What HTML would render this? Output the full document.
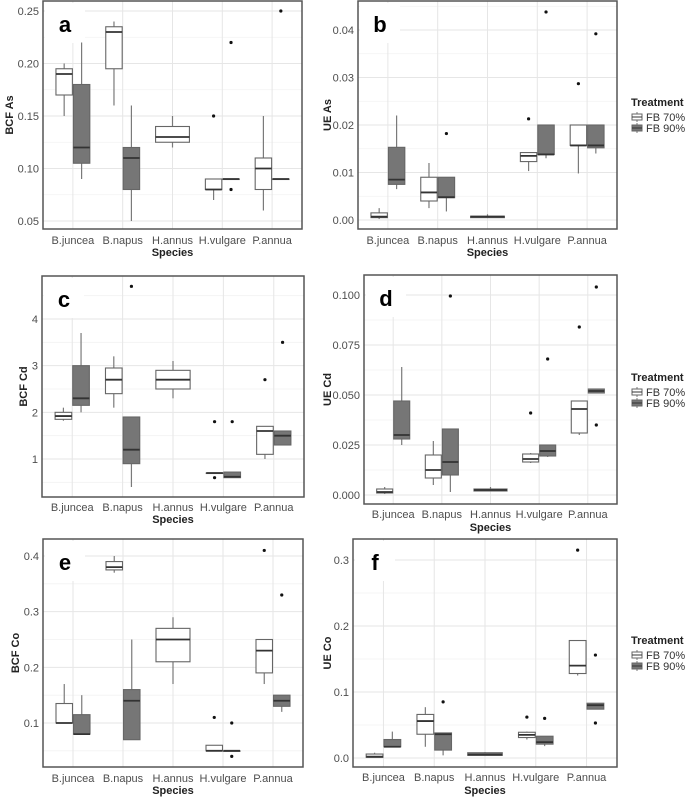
<!DOCTYPE html>
<html><head><meta charset="utf-8">
<style>
body{margin:0;background:#fff;}
svg{display:block;font-family:"Liberation Sans",Arial,sans-serif;}
</style></head>
<body>
<svg id="fig" width="685" height="800" viewBox="0 0 685 800"></svg>
<script>
const species = ["B.juncea","B.napus","H.annus","H.vulgare","P.annua"];
// each entry: [lowWhisker, q1, median, q3, highWhisker]; null = no box
const a70 = [[0.15,0.17,0.19,0.195,0.20],[0.16,0.195,0.23,0.235,0.24],[0.12,0.125,0.13,0.14,0.15],[0.07,0.08,0.08,0.09,0.09],[0.06,0.08,0.10,0.11,0.15]];
const a90 = [[0.09,0.105,0.12,0.18,0.22],[0.05,0.08,0.11,0.12,0.16],null,[0.09,0.09,0.09,0.09,0.09],[0.09,0.09,0.09,0.09,0.09]];
const aOut70 = [[],[],[],[0.15],[]];
const aOut90 = [[],[],[],[0.22,0.08],[0.25]];
const aTicks = [0.05,0.10,0.15,0.20,0.25];
const aTickLabels = ["0.05","0.10","0.15","0.20","0.25"];

const b70 = [[0.0002,0.0005,0.0007,0.0015,0.0025],[0.0025,0.004,0.0058,0.009,0.012],null,[0.0103,0.0123,0.0135,0.0142,0.0142],[0.0098,0.0157,0.0157,0.02,0.02]];
const b90 = [[0.0065,0.0075,0.0085,0.0153,0.022],[0.0018,0.0047,0.0048,0.009,0.009],[0.0005,0.0005,0.0007,0.0008,0.0012],[0.013,0.0138,0.0138,0.02,0.02],[0.014,0.0152,0.0157,0.02,0.02]];
const bOut70 = [[],[],[],[0.0213],[0.0287]];
const bOut90 = [[],[0.0182],[],[0.0438],[0.0392]];
const bTicks = [0,0.01,0.02,0.03,0.04];
const bTickLabels = ["0.00","0.01","0.02","0.03","0.04"];

const c70 = [[1.82,1.85,1.92,2.0,2.1],[2.1,2.4,2.7,2.95,3.2],[2.3,2.5,2.7,2.9,3.1],[0.7,0.7,0.7,0.7,0.7],[1.0,1.1,1.6,1.7,1.7]];
const c90 = [[2.0,2.15,2.3,3.0,3.7],[0.4,0.9,1.2,1.9,1.9],null,[0.6,0.6,0.62,0.72,0.72],[1.3,1.3,1.5,1.6,1.6]];
const cOut70 = [[],[],[],[1.8,0.6],[2.7]];
const cOut90 = [[],[4.7],[],[1.8],[3.5]];
const cTicks = [1,2,3,4];
const cTickLabels = ["1","2","3","4"];

const d70 = [[0.0005,0.001,0.0015,0.003,0.004],[0.005,0.0085,0.0125,0.02,0.027],null,[0.016,0.0165,0.018,0.0205,0.021],[0.030,0.031,0.043,0.047,0.047]];
const d90 = [[0.025,0.028,0.030,0.047,0.064],[0.0015,0.01,0.0165,0.033,0.033],[0.002,0.002,0.0025,0.003,0.004],[0.019,0.0195,0.022,0.025,0.025],[0.051,0.051,0.052,0.053,0.053]];
const dOut70 = [[],[],[],[0.041],[0.084]];
const dOut90 = [[],[0.0995],[],[0.068],[0.104,0.035]];
const dTicks = [0,0.025,0.05,0.075,0.1];
const dTickLabels = ["0.000","0.025","0.050","0.075","0.100"];

const e70 = [[0.10,0.10,0.10,0.135,0.17],[0.37,0.375,0.38,0.39,0.40],[0.17,0.21,0.25,0.27,0.29],[0.05,0.05,0.05,0.06,0.06],[0.17,0.19,0.23,0.25,0.25]];
const e90 = [[0.08,0.08,0.08,0.115,0.15],[0.07,0.07,0.14,0.16,0.25],null,[0.05,0.05,0.05,0.05,0.05],[0.12,0.13,0.14,0.15,0.15]];
const eOut70 = [[],[],[],[0.11],[0.41]];
const eOut90 = [[],[],[],[0.10,0.04],[0.33]];
const eTicks = [0.1,0.2,0.3,0.4];
const eTickLabels = ["0.1","0.2","0.3","0.4"];

const f70 = [[0.001,0.001,0.002,0.006,0.008],[0.017,0.036,0.056,0.066,0.077],null,[0.028,0.031,0.035,0.039,0.04],[0.125,0.128,0.14,0.178,0.178]];
const f90 = [[0.016,0.017,0.017,0.028,0.04],[0.004,0.012,0.036,0.038,0.038],[0.004,0.004,0.005,0.008,0.009],[0.018,0.021,0.024,0.033,0.033],[0.074,0.074,0.08,0.083,0.083]];
const fOut70 = [[],[],[],[0.062],[0.315]];
const fOut90 = [[],[0.085],[],[0.06],[0.156,0.053]];
const fTicks = [0,0.1,0.2,0.3];
const fTickLabels = ["0.0","0.1","0.2","0.3"];

const NS="http://www.w3.org/2000/svg";
const svg=document.getElementById('fig');
function mk(tag,attrs,parent,text){const e=document.createElementNS(NS,tag);for(const k in attrs)e.setAttribute(k,attrs[k]);if(text!==undefined)e.textContent=text;(parent||svg).appendChild(e);return e;}

const panels=[
 {id:'a',title:'BCF As',L:43,R:302,T:1,B:229,t0:aTicks[0],y0:221,t1:aTicks[4],y1:11,ticks:aTicks,tl:aTickLabels,d70:a70,d90:a90,o70:aOut70,o90:aOut90,tx:10,cy:240,sy:252,legend:null},
 {id:'b',title:'UE As',L:358,R:617,T:1,B:229,t0:0,y0:220,t1:0.04,y1:30,ticks:bTicks,tl:bTickLabels,d70:b70,d90:b90,o70:bOut70,o90:bOut90,tx:328,cy:240,sy:252,legend:102},
 {id:'c',title:'BCF Cd',L:42,R:304,T:276,B:497,t0:1,y0:459,t1:4,y1:319,ticks:cTicks,tl:cTickLabels,d70:c70,d90:c90,o70:cOut70,o90:cOut90,tx:24,cy:507,sy:519,legend:null},
 {id:'d',title:'UE Cd',L:364,R:617,T:275,B:504,t0:0,y0:495,t1:0.1,y1:295,ticks:dTicks,tl:dTickLabels,d70:d70,d90:d90,o70:dOut70,o90:dOut90,tx:328,cy:514,sy:527,legend:377},
 {id:'e',title:'BCF Co',L:43,R:303,T:539,B:767,t0:0.1,y0:723,t1:0.4,y1:556,ticks:eTicks,tl:eTickLabels,d70:e70,d90:e90,o70:eOut70,o90:eOut90,tx:16,cy:778,sy:790,legend:null},
 {id:'f',title:'UE Co',L:353,R:617,T:539,B:767,t0:0,y0:758,t1:0.3,y1:560,ticks:fTicks,tl:fTickLabels,d70:f70,d90:f90,o70:fOut70,o90:fOut90,tx:328,cy:777,sy:790,legend:640}
];

panels.forEach(p=>{
  const g=mk('g',{});
  
  
  const ys=v=>p.y0+(v-p.t0)*(p.y1-p.y0)/(p.t1-p.t0);
  const unit=(p.R-p.L)/5.2;
  const xs=i=>p.L+(i+0.6)*unit;
  const half=unit*0.35;
  // grid
  const step=p.ticks[1]-p.ticks[0];
  for(let k=-1;k<p.ticks.length+1;k++){
    const vm=p.ticks[0]+(k+0.5)*step;const ym=ys(vm);
    if(ym>p.T&&ym<p.B){const l=mk('line',{x1:p.L,x2:p.R,y1:ym,y2:ym,stroke:'#f2f2f2','stroke-width':0.8},g);}
  }
  p.ticks.forEach((t,i)=>{
    const y=ys(t);
    const l=mk('line',{x1:p.L,x2:p.R,y1:y,y2:y,stroke:'#e6e6e6','stroke-width':1},g);
    
    const tx=mk('text',{x:p.L-4,y:y+4,'text-anchor':'end','font-size':11,fill:'#4d4d4d'},g,p.tl[i]);
    
  });
  species.forEach((s,i)=>{
    const x=xs(i);
    const l=mk('line',{x1:x,x2:x,y1:p.T,y2:p.B,stroke:'#e6e6e6','stroke-width':1},g);
    
    const tx=mk('text',{x:x,y:p.cy+4,'text-anchor':'middle','font-size':11,fill:'#4d4d4d'},g,s);
    
  });
  // letter label with white background
  const bg=mk('rect',{x:p.L+2,y:p.T+2,width:40,height:40,fill:'#fff'},g);
  
  const lt=mk('text',{x:p.L+22,y:p.T+31,'text-anchor':'middle','font-size':22,'font-weight':'bold',fill:'#000'},g,p.id);
  
  // boxes
  species.forEach((s,i)=>{
    const c=xs(i);
    [[p.d70[i],p.o70[i],'#ffffff',0],[p.d90[i],p.o90[i],'#767676',1]].forEach(([d,o,fill,k])=>{
      if(!d)return;
      const other=k===0?p.d90[i]:p.d70[i];
      let x0,x1;
      if(!other){x0=c-half;x1=c+half;} else if(k===0){x0=c-half;x1=c;} else {x0=c;x1=c+half;}
      const xm=(x0+x1)/2;
      const bx=mk('g',{},g);
      
      
      mk('line',{x1:xm,x2:xm,y1:ys(d[0]),y2:ys(d[4]),stroke:'#7a7a7a','stroke-width':1.2},bx);
      const yt=ys(d[3]),yb=ys(d[1]);
      mk('rect',{x:x0+0.5,y:yt,width:x1-x0-1,height:Math.max(yb-yt,0.5),fill:fill,stroke:'#666','stroke-width':1.1},bx);
      mk('line',{x1:x0+0.5,x2:x1-0.5,y1:ys(d[2]),y2:ys(d[2]),stroke:'#333','stroke-width':1.8},bx);
      o.forEach(v=>{const pt=mk('circle',{cx:xm,cy:ys(v),r:1.6,fill:'#111'},bx);});
    });
  });
  const br=mk('rect',{x:p.L,y:p.T,width:p.R-p.L,height:p.B-p.T,fill:'none',stroke:'#555','stroke-width':1.5},g);
  
  const st=mk('text',{x:(p.L+p.R)/2,y:p.sy+4,'text-anchor':'middle','font-size':11,'font-weight':'bold',fill:'#222'},g,'Species');
  
  const cyT=(p.T+p.B)/2;
  const yt=mk('text',{x:p.tx,y:cyT,'text-anchor':'middle','font-size':11,'font-weight':'bold',fill:'#222',transform:'rotate(-90 '+p.tx+' '+cyT+')','dominant-baseline':'middle'},g,p.title);
  
  if(p.legend){
    const lg=mk('g',{},svg);
    
    mk('text',{x:631,y:p.legend+4,'font-size':11,'font-weight':'bold',fill:'#222'},lg,'Treatment');
    [['FB 70%','#fff'],['FB 90%','#767676']].forEach(([lab,f],j)=>{
      const yy=p.legend+15+j*11;
      const e=mk('g',{},lg);
      
      mk('line',{x1:637,x2:637,y1:yy-5,y2:yy+5,stroke:'#7a7a7a'},e);
      mk('rect',{x:632,y:yy-3,width:10,height:6,fill:f,stroke:'#666'},e);
      mk('line',{x1:632,x2:642,y1:yy,y2:yy,stroke:'#333'},e);
      mk('text',{x:646,y:yy+4,'font-size':11,fill:'#333'},e,lab);
    });
  }
});
</script>
</body></html>
